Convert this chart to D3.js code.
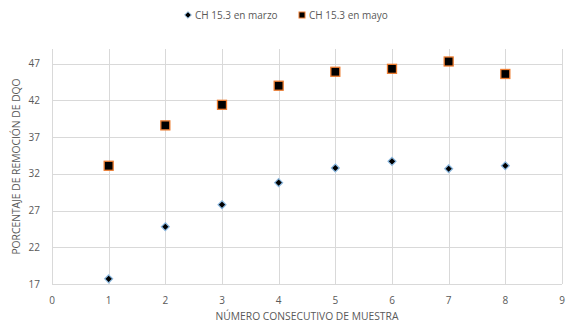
<!DOCTYPE html>
<html>
<head>
<meta charset="utf-8">
<script src="https://cdn.jsdelivr.net/npm/d3@7"></script>
<style>
  html, body { margin: 0; padding: 0; background: #fff; }
  svg { display: block; font-family: "Open Sans", "Liberation Sans", sans-serif; }
</style>
</head>
<body>
<svg id="chart" width="566" height="323"></svg>
<script>
// Sample numbers and DQO removal percentages for the two campaigns
const samples = [1, 2, 3, 4, 5, 6, 7, 8];
const marzo = [17.7, 24.8, 27.8, 30.8, 32.8, 33.7, 32.7, 33.1];
const mayo = [33.1, 38.6, 41.4, 44.0, 45.9, 46.3, 47.3, 45.6];
const xTicks = [0, 1, 2, 3, 4, 5, 6, 7, 8, 9];
const yTicks = [17, 22, 27, 32, 37, 42, 47];
const seriesNames = ["CH 15.3 en marzo", "CH 15.3 en mayo"];

const svg = d3.select("#chart");
const margin = { left: 52, right: 4, top: 49, bottom: 39 };
const W = 566, H = 323;

const x = d3.scaleLinear().domain([0, 9]).range([margin.left, W - margin.right]);
const y = d3.scaleLinear().domain([17, 49]).range([H - margin.bottom, margin.top]);

const textColor = "#595959";
const gridColor = "#d9d9d9";

// Gridlines
const g = svg.append("g");
g.selectAll("line.h").data(yTicks).join("line")
  .attr("x1", x(0)).attr("x2", x(9))
  .attr("y1", d => Math.round(y(d)) + 0.5).attr("y2", d => Math.round(y(d)) + 0.5)
  .attr("stroke", gridColor).attr("stroke-width", 1);
g.selectAll("line.v").data(xTicks).join("line")
  .attr("x1", d => Math.round(x(d)) + 0.5).attr("x2", d => Math.round(x(d)) + 0.5)
  .attr("y1", y(49)).attr("y2", y(17))
  .attr("stroke", gridColor).attr("stroke-width", 1);

// Axis tick labels
svg.append("g").selectAll("text").data(yTicks).join("text")
  .attr("x", 40).attr("y", d => y(d)).attr("dy", "0.35em")
  .attr("text-anchor", "end").attr("font-size", 10).attr("fill", textColor)
  .text(d => d);
svg.append("g").selectAll("text").data(xTicks).join("text")
  .attr("x", d => x(d)).attr("y", 300).attr("dy", "0.35em")
  .attr("text-anchor", "middle").attr("font-size", 10).attr("fill", textColor)
  .text(d => d);

// Axis titles
svg.append("text")
  .attr("x", (x(0) + x(9)) / 2).attr("y", 316).attr("dy", "0.35em")
  .attr("text-anchor", "middle").attr("font-size", 10.3).attr("fill", textColor)
  .text("NÚMERO CONSECUTIVO DE MUESTRA");
svg.append("text")
  .attr("transform", `translate(16,${(y(17) + y(49)) / 2}) rotate(-90)`)
  .attr("dy", "0.35em")
  .attr("text-anchor", "middle").attr("font-size", 10.3).attr("fill", textColor)
  .text("PORCENTAJE DE REMOCIÓN DE DQO");

// Markers
const diamond = d3.symbol().type(d3.symbolDiamond2).size(40);
svg.append("g").selectAll("path").data(samples).join("path")
  .attr("transform", (d, i) => `translate(${x(d)},${y(marzo[i])})`)
  .attr("d", diamond)
  .attr("fill", "#000").attr("stroke", "#8ab8e0").attr("stroke-width", 1.2);

const sq = 9;
svg.append("g").selectAll("rect").data(samples).join("rect")
  .attr("x", d => x(d) - sq / 2).attr("y", (d, i) => y(mayo[i]) - sq / 2)
  .attr("width", sq).attr("height", sq)
  .attr("fill", "#000").attr("stroke", "#ed7d31").attr("stroke-width", 1.3);

// Legend
const leg = svg.append("g");
leg.append("path")
  .attr("transform", "translate(188,15)")
  .attr("d", d3.symbol().type(d3.symbolDiamond2).size(28))
  .attr("fill", "#000").attr("stroke", "#8ab8e0").attr("stroke-width", 1);
leg.append("text").attr("x", 195).attr("y", 15).attr("dy", "0.35em")
  .attr("font-size", 10).attr("fill", textColor).text(seriesNames[0]);
leg.append("rect").attr("x", 299).attr("y", 12).attr("width", 6).attr("height", 6)
  .attr("fill", "#000").attr("stroke", "#ed7d31").attr("stroke-width", 1);
leg.append("text").attr("x", 309).attr("y", 15).attr("dy", "0.35em")
  .attr("font-size", 10).attr("fill", textColor).text(seriesNames[1]);
</script>
</body>
</html>
